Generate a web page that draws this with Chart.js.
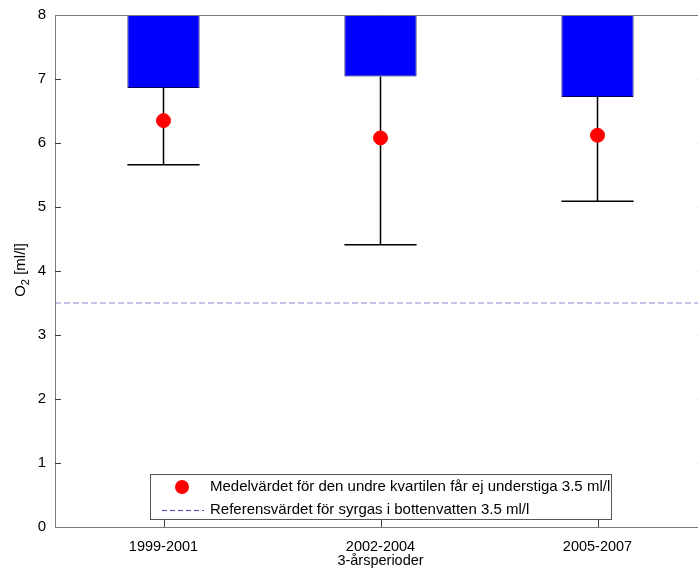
<!DOCTYPE html>
<html>
<head>
<meta charset="utf-8">
<script src="https://cdn.jsdelivr.net/npm/chart.js@4.4.1/dist/chart.umd.min.js"></script>
<style>
  html, body { margin: 0; padding: 0; background: #ffffff; }
  #wrap { width: 698px; height: 568px; overflow: hidden; position: relative; }
  #c { position: absolute; left: 0; top: 0; }
</style>
</head>
<body>
<div id="wrap"><canvas id="c" width="714" height="568"></canvas></div>
<script>
// Three-year periods and oxygen statistics (ml/l)
const categories = ['1999-2001', '2002-2004', '2005-2007'];
const lowerQuartile = [6.86, 7.04, 6.72];      // bottom of each box
const whiskerMin = [5.66, 4.41, 5.09];         // lower whisker end
const lowerQuartileMean = [6.35, 6.08, 6.12];  // mean of the lower quartile
const referenceValue = 3.5;                    // reference for bottom-water oxygen
const yTickValues = [0, 1, 2, 3, 4, 5, 6, 7, 8];
const xTitle = '3-årsperioder';

const Y_MIN = 0, Y_MAX = 8;
const X_MIN = 0.5, X_MAX = 3.5;

const FONT = "'Liberation Sans', Arial, sans-serif";
const AXIS_GREY = '#7a7a7a';

const legendLabels = [
  'Medelvärdet för den undre kvartilen får ej understiga 3.5 ml/l',
  'Referensvärdet för syrgas i bottenvatten 3.5 ml/l'
];

// Whiskers: vertical stem from box bottom to minimum, plus a cap as wide as the box
const whiskerPlugin = {
  id: 'whiskers',
  beforeDatasetsDraw(chart) {
    const ctx = chart.ctx;
    const y = chart.scales.y;
    const bars = chart.getDatasetMeta(0).data;
    ctx.save();
    ctx.strokeStyle = '#000000';
    ctx.lineWidth = 1.5;
    bars.forEach((bar, i) => {
      const x = bar.x;
      const half = bar.width / 2;
      const yTop = y.getPixelForValue(lowerQuartile[i]);
      const yBot = y.getPixelForValue(whiskerMin[i]);
      ctx.beginPath();
      ctx.moveTo(x, yTop);
      ctx.lineTo(x, yBot);
      ctx.moveTo(x - half, yBot);
      ctx.lineTo(x + half, yBot);
      ctx.stroke();
    });
    ctx.restore();
  }
};

// Frame: top and right borders, inward tick marks and the axis titles
const framePlugin = {
  id: 'frame',
  afterDraw(chart) {
    const ctx = chart.ctx;
    const a = chart.chartArea;
    const xs = chart.scales.x, ys = chart.scales.y;
    ctx.save();
    ctx.strokeStyle = AXIS_GREY;
    ctx.lineWidth = 1;
    ctx.beginPath();
    ctx.moveTo(a.left, a.top + 0.5);
    ctx.lineTo(a.right, a.top + 0.5);
    ctx.moveTo(a.right - 0.5, a.top);
    ctx.lineTo(a.right - 0.5, a.bottom);
    ctx.stroke();
    ctx.strokeStyle = '#444444';
    ctx.beginPath();
    ys.ticks.forEach(t => {
      const py = Math.round(ys.getPixelForValue(t.value)) + 0.5;
      if (t.value === Y_MIN || t.value === Y_MAX) return;
      ctx.moveTo(a.left, py);
      ctx.lineTo(a.left + 6, py);
    });
    xs.ticks.forEach(t => {
      const px = Math.round(xs.getPixelForValue(t.value)) + 0.5;
      ctx.moveTo(px, a.bottom);
      ctx.lineTo(px, a.bottom - 7);
    });
    ctx.stroke();
    // faint inward ticks of the right-hand axis
    ctx.strokeStyle = '#d8d8d8';
    ctx.beginPath();
    ys.ticks.forEach(t => {
      const py = Math.round(ys.getPixelForValue(t.value)) + 0.5;
      if (t.value === Y_MIN || t.value === Y_MAX) return;
      ctx.moveTo(a.right, py);
      ctx.lineTo(a.right - 9, py);
    });
    ctx.stroke();

    // x-axis title, centred on the axis
    ctx.fillStyle = '#000000';
    ctx.font = '14.5px ' + FONT;
    ctx.textAlign = 'center';
    ctx.textBaseline = 'middle';
    ctx.fillText(xTitle, (a.left + a.right) / 2, 561);

    // y-axis title with subscript
    ctx.translate(21, 270);
    ctx.rotate(-Math.PI / 2);
    const big = '15px ' + FONT, small = '11px ' + FONT;
    ctx.font = big;
    const wO = ctx.measureText('O').width;
    const wRest = ctx.measureText(' [ml/l]').width;
    ctx.font = small;
    const w2 = ctx.measureText('2').width;
    let x0 = -(wO + w2 + wRest) / 2;
    ctx.font = big;
    ctx.textAlign = 'left';
    ctx.fillText('O', x0, 0);
    ctx.font = small;
    ctx.fillText('2', x0 + wO, 5);
    ctx.font = big;
    ctx.fillText(' [ml/l]', x0 + wO + w2, 0);
    ctx.restore();
  }
};

// Legend box inside the plot area, bottom centre
const boxLegendPlugin = {
  id: 'boxLegend',
  afterDraw(chart) {
    const ctx = chart.ctx;
    const left = 150.5, top = 474.5, right = 611.5, bottom = 519.5;
    ctx.save();
    ctx.fillStyle = '#ffffff';
    ctx.fillRect(left, top, right - left, bottom - top);
    ctx.strokeStyle = '#555555';
    ctx.lineWidth = 1;
    ctx.strokeRect(left, top, right - left, bottom - top);
    const row1 = 487, row2 = 510;
    // marker for the mean
    ctx.fillStyle = '#ff0000';
    ctx.beginPath();
    ctx.arc(182, row1, 7, 0, Math.PI * 2);
    ctx.fill();
    // dashed line for the reference value
    ctx.strokeStyle = '#4a4ab8';
    ctx.setLineDash([5, 3]);
    ctx.beginPath();
    ctx.moveTo(162, row2 + 0.5);
    ctx.lineTo(204, row2 + 0.5);
    ctx.stroke();
    ctx.setLineDash([]);
    ctx.fillStyle = '#000000';
    ctx.font = '15px ' + FONT;
    ctx.textBaseline = 'middle';
    ctx.textAlign = 'left';
    ctx.fillText(legendLabels[0], 210, row1);
    ctx.fillText(legendLabels[1], 210, row2);
    ctx.restore();
  }
};

const ctx = document.getElementById('c').getContext('2d');
new Chart(ctx, {
  data: {
    datasets: [
      {
        type: 'bar',
        label: 'Kvartiler',
        data: categories.map((c, i) => ({ x: i + 1, y: [lowerQuartile[i], Y_MAX] })),
        backgroundColor: '#0000ff',
        borderColor: '#000066',
        borderWidth: { top: 0, left: 1, right: 1, bottom: 1 },
        borderSkipped: false,
        barPercentage: 0.333,
        categoryPercentage: 1.0,
        order: 3
      },
      {
        type: 'line',
        label: legendLabels[1],
        data: [{ x: X_MIN, y: referenceValue }, { x: X_MAX, y: referenceValue }],
        borderColor: '#8a8ad0',
        borderWidth: 1,
        borderDash: [6, 3],
        pointRadius: 0,
        fill: false,
        order: 2
      },
      {
        type: 'scatter',
        label: legendLabels[0],
        data: categories.map((c, i) => ({ x: i + 1, y: lowerQuartileMean[i] })),
        backgroundColor: '#ff0000',
        borderColor: '#ff0000',
        pointRadius: 7,
        pointHoverRadius: 7,
        order: 1
      }
    ]
  },
  options: {
    responsive: false,
    animation: false,
    events: [],
    layout: { padding: { top: 15, right: 0, bottom: 0, left: 0 } },
    plugins: {
      legend: { display: false },
      tooltip: { enabled: false },
      title: { display: false }
    },
    scales: {
      x: {
        type: 'linear',
        min: X_MIN,
        max: X_MAX,
        offset: false,
        afterBuildTicks(scale) {
          scale.ticks = categories.map((c, i) => ({ value: i + 1 }));
        },
        afterFit(scale) {
          scale.height = 41;
          scale.paddingLeft = 0;
          scale.paddingRight = 0;
        },
        grid: { display: false, drawTicks: false, offset: false },
        border: { display: true, color: AXIS_GREY, width: 1 },
        ticks: {
          autoSkip: false,
          maxRotation: 0,
          padding: 11,
          color: '#000000',
          font: { family: FONT, size: 14.5 },
          callback: (v) => categories[Math.round(v) - 1] || ''
        },
        title: { display: false }
      },
      y: {
        type: 'linear',
        min: Y_MIN,
        max: Y_MAX,
        afterBuildTicks(scale) {
          scale.ticks = yTickValues.map(v => ({ value: v }));
        },
        afterFit(scale) {
          scale.width = 55;
          scale.paddingTop = 0;
          scale.paddingBottom = 0;
        },
        grid: { display: false, drawTicks: false },
        border: { display: true, color: AXIS_GREY, width: 1 },
        ticks: {
          padding: 9,
          color: '#000000',
          font: { family: FONT, size: 15 }
        }
      }
    }
  },
  plugins: [whiskerPlugin, framePlugin, boxLegendPlugin]
});
</script>
</body>
</html>
